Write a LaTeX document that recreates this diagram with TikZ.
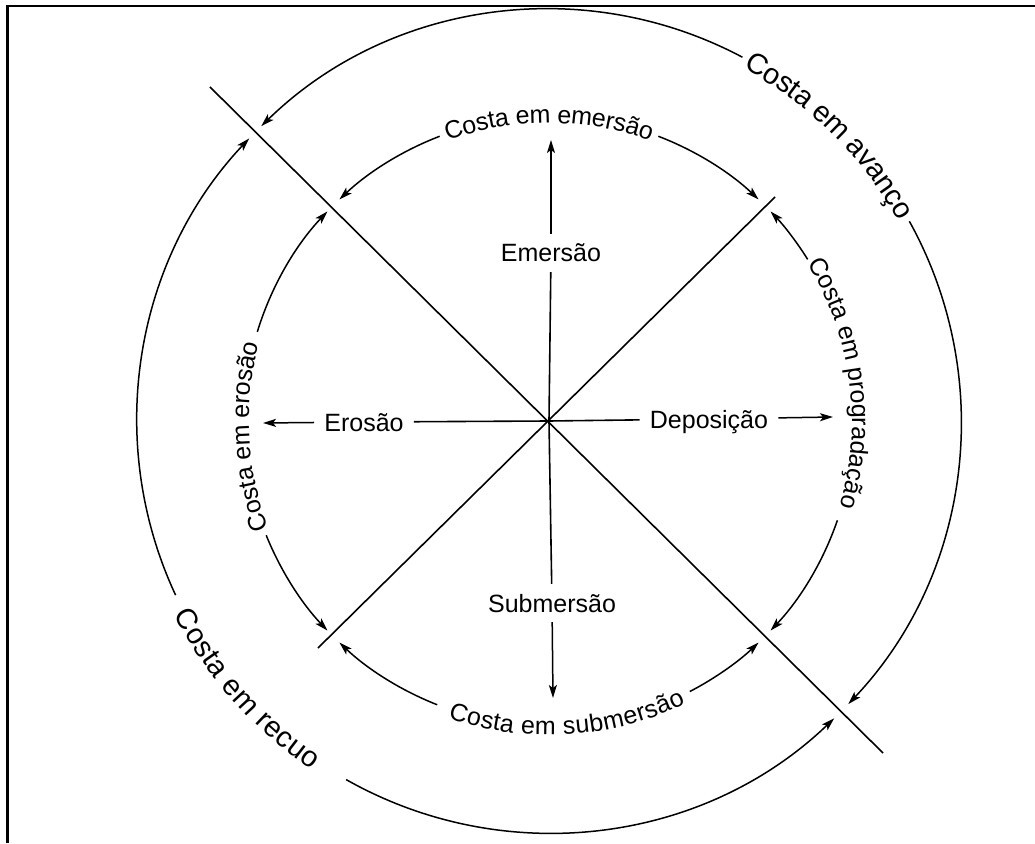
\documentclass[tikz,border=0pt]{standalone}
\usepackage{fontspec}
\setmainfont{Liberation Sans}
\usetikzlibrary{arrows.meta,decorations.text}
\newcommand{\innerf}{\fontsize{25}{30}\selectfont}
\newcommand{\outerf}{\fontsize{29}{34}\selectfont}
\begin{document}
\begin{tikzpicture}[x=1pt,y=1pt,
  line/.style={line width=1.6pt},
  arr/.style={line width=1.5pt,-{Stealth[length=13pt,width=8pt,inset=3pt]}},
  lbl/.style={font=\innerf, text height=18pt, text depth=0pt, inner xsep=10pt, inner ysep=10pt},
  ringtext/.style={decorate, decoration={text along path, text align=center, raise=#1}},
]
\useasboundingbox (-549,-422) rectangle (486,421);
% frame (top and left edges)
\draw[line width=2.5pt] (-541.5,-422) -- (-541.5,415) -- (486,415);

% centre and diagonals
\coordinate (O) at (0,0);
\coordinate (nw) at (-339,334);
\coordinate (se) at (334,-332);
\coordinate (ne) at (226,224);
\coordinate (sw) at (-231,-227);
\draw[line] (nw) -- (se);
\draw[line] (ne) -- (sw);

% axes with labels
\node[lbl] (emer) at (2,168) {Emersão};
\node[lbl] (subm) at (3,-182) {Submersão};
\node[lbl] (eros) at (-185,-1) {Erosão};
\node[lbl] (depo) at (160,2) {Deposição};
\coordinate (tN) at (2,281);
\coordinate (tS) at (4,-277);
\coordinate (tW) at (-286,-2);
\coordinate (tE) at (284,4);
\draw[arr] (emer) -- (tN);
\draw[line] (emer) -- (O);
\draw[line] (O) -- (subm);
\draw[arr] (subm) -- (tS);
\draw[arr] (eros) -- (tW);
\draw[line] (eros) -- (O);
\draw[line] (O) -- (depo);
\draw[arr] (depo) -- (tE);

% inner ring arcs (r = 305)
\draw[arr] (111:305) arc[start angle=111, end angle=133.4, radius=305pt];
\draw[arr] (69:305) arc[start angle=69, end angle=46.6, radius=305pt];
\draw[arr] (163:305) arc[start angle=163, end angle=136.6, radius=305pt];
\draw[arr] (202:305) arc[start angle=202, end angle=223.4, radius=305pt];
\draw[arr] (32:305) arc[start angle=32, end angle=43.4, radius=305pt];
\draw[arr] (-19:305) arc[start angle=-19, end angle=-43.4, radius=305pt];
\draw[arr] (248.5:305) arc[start angle=248.5, end angle=226.6, radius=305pt];
\draw[arr] (297.5:305) arc[start angle=297.5, end angle=313.4, radius=305pt];

% inner ring texts
\path[ringtext=-7pt, decoration={text={|\innerf|Costa em emersão}}]
  (115:305) arc[start angle=115, end angle=65, radius=305pt];
\path[ringtext=-5pt, decoration={text={|\innerf|Costa em erosão}}]
  (210:305) arc[start angle=210, end angle=156, radius=305pt];
\path[ringtext=-2pt, decoration={text={|\innerf|Costa em progradação}}]
  (36:305) arc[start angle=36, end angle=-21, radius=305pt];
\path[ringtext=-9pt, decoration={text={|\innerf|Costa em submersão}}]
  (246:305) arc[start angle=246, end angle=301, radius=305pt];

% outer ring arcs (r = 412)
\draw[arr] (62:412) arc[start angle=62, end angle=134.3, radius=412pt];
\draw[arr] (29:412) arc[start angle=29, end angle=-43.4, radius=412pt];
\draw[arr] (205:412) arc[start angle=205, end angle=136.7, radius=412pt];
\draw[arr] (240.5:412) arc[start angle=240.5, end angle=313.8, radius=412pt];

% outer ring texts
\path[ringtext=-9pt, decoration={text={|\outerf|Costa em avanço}}]
  (76:412) arc[start angle=76, end angle=15, radius=412pt];
\path[ringtext=-10pt, decoration={text={|\outerf|Costa em recuo}}]
  (199:412) arc[start angle=199, end angle=244, radius=412pt];
\end{tikzpicture}
\end{document}
